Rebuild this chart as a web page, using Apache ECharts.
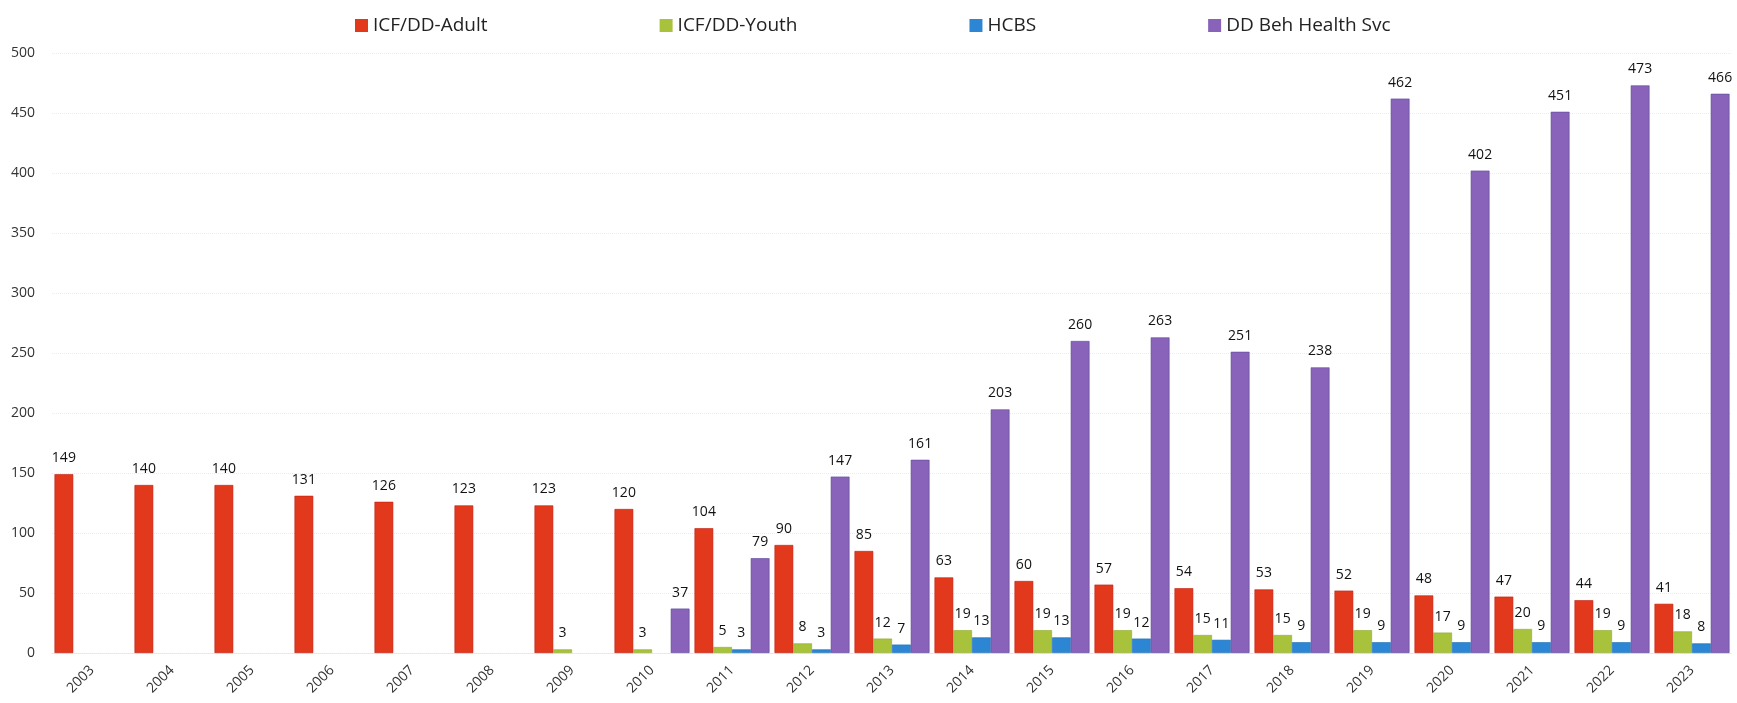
<!DOCTYPE html>
<html>
<head>
<meta charset="utf-8">
<script src="https://cdn.jsdelivr.net/npm/echarts@6/dist/echarts.min.js"></script>
<style>
html,body{margin:0;padding:0;background:#fff;}
#c{width:1737px;height:703px;}
</style>
</head>
<body>
<div id="c"></div>
<script>
const categories = ['2003','2004','2005','2006','2007','2008','2009','2010','2011','2012','2013','2014','2015','2016','2017','2018','2019','2020','2021','2022','2023'];
const seriesNames = ['ICF/DD-Adult','ICF/DD-Youth','HCBS','DD Beh Health Svc'];
const adult = [149,140,140,131,126,123,123,120,104,90,85,63,60,57,54,53,52,48,47,44,41];
const youth = [null,null,null,null,null,null,3,3,5,8,12,19,19,19,15,15,19,17,20,19,18];
const hcbs = [null,null,null,null,null,null,null,null,3,3,7,13,13,12,11,9,9,9,9,9,8];
const behHealth = [null,null,null,null,null,null,null,37,79,147,161,203,260,263,251,238,462,402,451,473,466];
const yTicks = {min:0, max:500, interval:50};

const colors = ['#e2391d','#a8c23c','#2d86d4','#8963b9'];
const borders = ['#c02010','#8fa82a','#1f6fb5','#5a4a9a'];
const FONT = '"Open Sans", "Noto Sans", sans-serif';

const values = [adult, youth, hcbs, behHealth];
const chart = echarts.init(document.getElementById('c'));
chart.setOption({
  animation:false,
  textStyle:{fontFamily:FONT},
  legend:{
    top:11,
    left:350,
    itemGap:172,
    itemWidth:13,
    itemHeight:13,
    icon:'rect',
    itemStyle:{borderWidth:0},
    textStyle:{fontSize:19,color:'#222',fontFamily:FONT},
    data:seriesNames
  },
  grid:{left:52,right:5,top:53,bottom:50},
  xAxis:{
    type:'category',
    data:categories,
    axisTick:{show:false},
    axisLine:{show:true,lineStyle:{color:'#e4e4e4',type:'dotted'}},
    axisLabel:{rotate:45,margin:15,fontSize:14,color:'#333',fontFamily:FONT}
  },
  yAxis:{
    type:'value',
    min:yTicks.min,max:yTicks.max,interval:yTicks.interval,
    axisLine:{show:false},
    axisTick:{show:false},
    axisLabel:{margin:17,fontSize:14,color:'#333',fontFamily:FONT},
    splitLine:{show:true,lineStyle:{color:'#ececec',type:'dotted'}}
  },
  series: seriesNames.map((n,i)=>({
    name:n,
    type:'bar',
    data:values[i],
    barGap:'0%',
    barCategoryGap:'6.25%',
    itemStyle:{color:colors[i],borderColor:borders[i],borderWidth:0.6},
    label:{show:true,position:'top',distance:9,fontSize:14,color:'#111',fontFamily:FONT}
  }))
});
</script>
</body>
</html>
